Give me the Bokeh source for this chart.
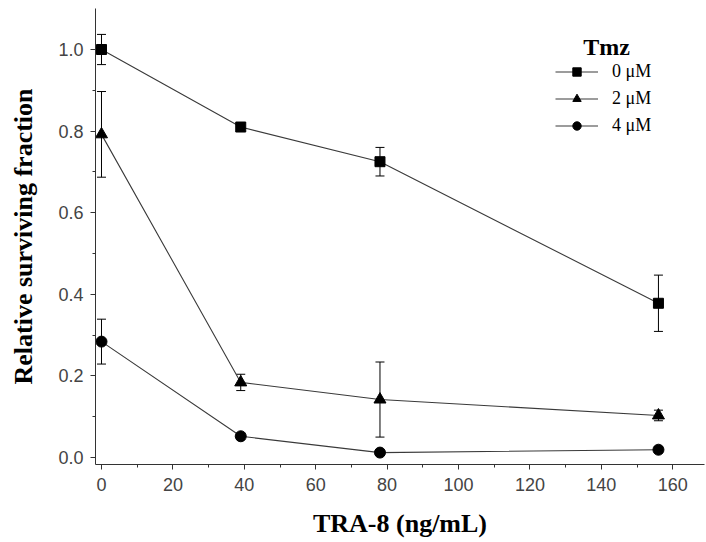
from bokeh.plotting import figure
from bokeh.models import (ColumnDataSource, Whisker, TeeHead, Legend, LegendItem,
                          Label, FixedTicker, PrintfTickFormatter, Range1d)
from bokeh.embed import file_html
from bokeh.resources import INLINE

# ---- data ----
tra8 = [0, 39, 78, 156]
tmz_labels = ["0 \u03bcM", "2 \u03bcM", "4 \u03bcM"]
surv_0 = [1.0, 0.81, 0.725, 0.378]
err_0 = [0.037, 0.01, 0.035, 0.069]
surv_2 = [0.792, 0.184, 0.142, 0.103]
err_2 = [0.105, 0.02, 0.092, 0.013]
surv_4 = [0.284, 0.052, 0.012, 0.019]
err_4 = [0.055, 0.008, 0.006, 0.008]
x_ticks = [0, 20, 40, 60, 80, 100, 120, 140, 160]
y_ticks = [0.0, 0.2, 0.4, 0.6, 0.8, 1.0]

p = figure(width=706, height=542, output_backend="svg", toolbar_location=None,
           x_range=Range1d(-1.68, 168.9), y_range=Range1d(-0.0172, 1.1005),
           min_border_left=95, min_border_right=2, min_border_top=8, min_border_bottom=78)
p.outline_line_color = None
p.xgrid.visible = False
p.ygrid.visible = False
p.background_fill_color = "white"

axis_col = "#333333"
for ax in (p.xaxis[0], p.yaxis[0]):
    ax.axis_line_color = axis_col
    ax.major_tick_line_color = axis_col
    ax.minor_tick_line_color = axis_col
    ax.major_tick_out = 5
    ax.major_tick_in = 0
    ax.minor_tick_out = 3
    ax.minor_tick_in = 0
    ax.major_label_text_font = "Liberation Sans"
    ax.major_label_text_font_size = "18px"
    ax.major_label_text_color = "#444444"
    ax.axis_label_text_font = "Liberation Serif"
    ax.axis_label_text_font_style = "bold"
    ax.axis_label_text_font_size = "26px"
    ax.axis_label_text_color = "black"

p.xaxis.ticker = FixedTicker(ticks=x_ticks, minor_ticks=[t + 10 for t in x_ticks[:-1]])
p.yaxis.ticker = FixedTicker(ticks=y_ticks, minor_ticks=[round(t + 0.1, 1) for t in y_ticks[:-1]])
p.yaxis.formatter = PrintfTickFormatter(format="%.1f")
p.xaxis.axis_label = "TRA-8 (ng/mL)"
p.yaxis.axis_label = "Relative surviving fraction"
p.xaxis.major_label_standoff = 8
p.yaxis.major_label_standoff = 7
p.xaxis.axis_label_standoff = 15
p.yaxis.axis_label_standoff = 17

series = [(surv_0, err_0, "square", 10), (surv_2, err_2, "triangle", 12), (surv_4, err_4, "circle", 11)]
items = []
for (vals, errs, marker, size), lab in zip(series, tmz_labels):
    src = ColumnDataSource(dict(x=tra8, y=vals,
                                upper=[v + e for v, e in zip(vals, errs)],
                                lower=[v - e for v, e in zip(vals, errs)]))
    w = Whisker(source=src, base="x", upper="upper", lower="lower", dimension="height",
                line_color="black", line_width=1,
                upper_head=TeeHead(size=9, line_color="black", line_width=1),
                lower_head=TeeHead(size=9, line_color="black", line_width=1))
    p.add_layout(w)
    lr = p.line("x", "y", source=src, line_color="#3a3a3a", line_width=1.1)
    sr = p.scatter("x", "y", source=src, marker=marker, size=size,
                   fill_color="black", line_color="black")
    items.append(LegendItem(label=lab, renderers=[lr, sr]))

legend = Legend(items=items, location=(460, 328), glyph_width=43, glyph_height=21,
                spacing=6, padding=0, margin=0, label_standoff=14,
                border_line_color=None, background_fill_alpha=0,
                label_text_font="Liberation Serif", label_text_font_size="18px",
                label_text_color="black")
p.add_layout(legend)

title = Label(x=511, y=418, x_units="screen", y_units="screen", text="Tmz",
              text_font="Liberation Serif", text_font_style="bold", text_font_size="24px",
              text_align="center", text_baseline="alphabetic", text_color="black")
p.add_layout(title)

open("out.html", "w").write(file_html(p, INLINE))
